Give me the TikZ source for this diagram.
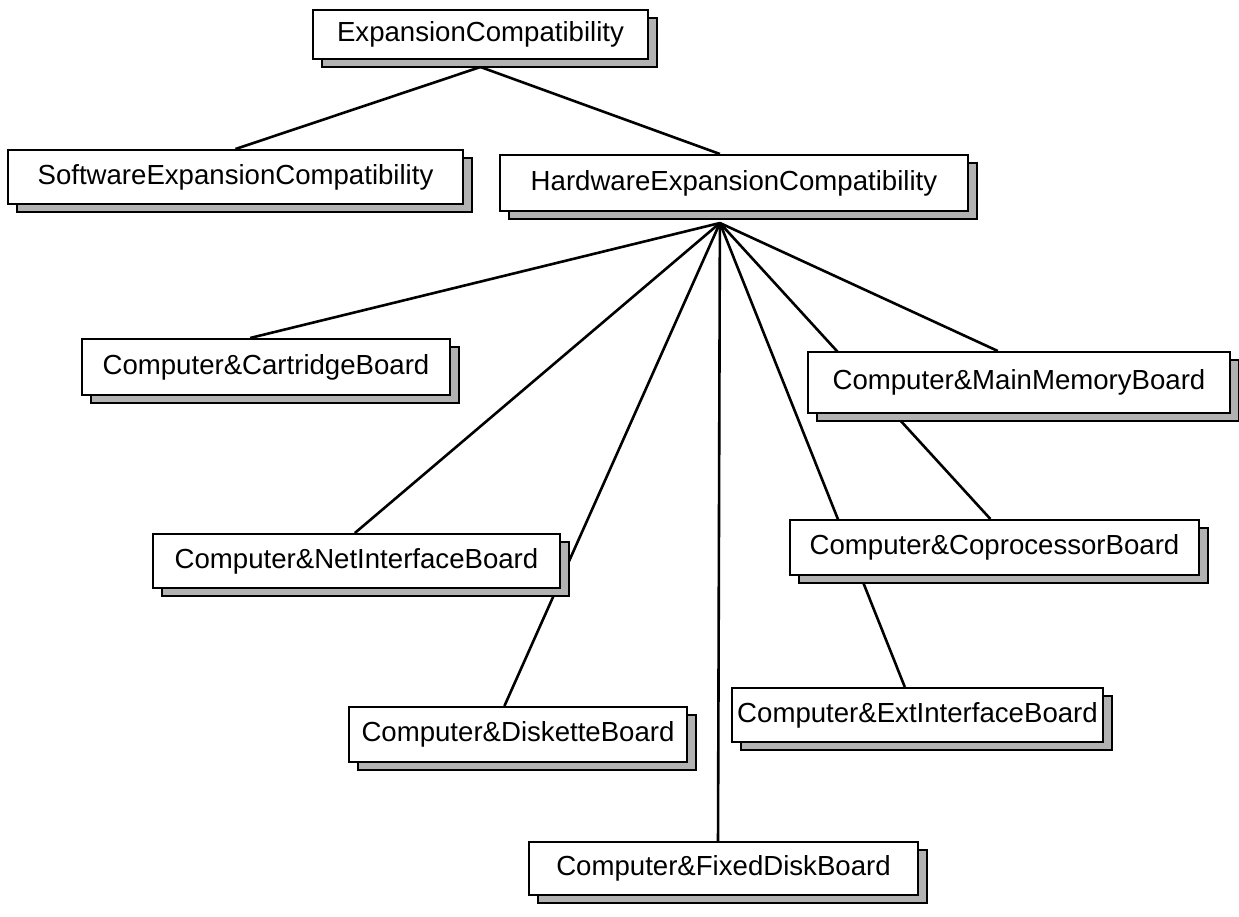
\documentclass[tikz,border=0pt]{standalone}
\usepackage{fontspec}
\setmainfont{Liberation Sans}
\usetikzlibrary{calc,shadows,backgrounds}
\begin{document}
\begin{tikzpicture}[x=0.5pt,y=-0.5pt,
  box/.style={draw=black, line width=1pt, fill=white, inner sep=0pt,
    font=\fontsize{13.8}{16}\selectfont,
    general shadow={fill=gray!60, draw=black, line width=0.6pt,
      shadow xshift=4.5pt, shadow yshift=-4pt}},
  link/.style={line width=1.3pt, draw=black}]
\useasboundingbox (0,0) rectangle (1239,917);

% class boxes
\node[box, minimum width=167.5pt, minimum height=24.5pt] (exp)  at (480.5,34.5) {ExpansionCompatibility};
\node[box, minimum width=227.5pt, minimum height=27pt]   (sw)   at (235.5,177)  {SoftwareExpansionCompatibility};
\node[box, minimum width=234pt,   minimum height=28pt]   (hw)   at (734,183)    {HardwareExpansionCompatibility};
\node[box, minimum width=184pt,   minimum height=28pt]   (cart) at (266,367)    {Computer\&CartridgeBoard};
\node[box, minimum width=211pt,   minimum height=30.5pt] (mm)   at (1019,382.5) {Computer\&MainMemoryBoard};
\node[box, minimum width=203.5pt, minimum height=27pt]   (net)  at (356.5,561)  {Computer\&NetInterfaceBoard};
\node[box, minimum width=204.5pt, minimum height=27.5pt] (cop)  at (994.5,547.5) {Computer\&CoprocessorBoard};
\node[box, minimum width=169pt,   minimum height=27.5pt] (disk) at (518,734.5)  {Computer\&DisketteBoard};
\node[box, minimum width=185.5pt, minimum height=27pt]   (ext)  at (917.5,715)  {Computer\&ExtInterfaceBoard};
\node[box, minimum width=194.5pt, minimum height=26.5pt] (fix)  at (723.5,868.5) {Computer\&FixedDiskBoard};

% connectors, drawn behind the boxes
\begin{scope}[on background layer]
  \coordinate (hubA) at ($(exp.south)+(0,7)$);
  \coordinate (hubB) at ($(hw.south west)!0.47!(hw.south east)+(0,11)$);
  \draw[link] (hubA) -- (sw.north);
  \draw[link] (hubA) -- ($(hw.north west)!0.47!(hw.north east)$);
  \draw[link] (hubB) -- ($(cart.north west)!0.457!(cart.north east)$);
  \draw[link] (hubB) -- ($(net.north west)!0.496!(net.north east)$);
  \draw[link] (hubB) -- ($(disk.north west)!0.46!(disk.north east)$);
  \draw[link] (hubB) -- ($(fix.north west)!0.486!(fix.north east)$);
  \draw[link] (hubB) -- ($(ext.north west)!0.466!(ext.north east)$);
  \draw[link] (hubB) -- ($(cop.north west)!0.49!(cop.north east)$);
  \draw[link] (hubB) -- ($(mm.north west)!0.45!(mm.north east)$);
\end{scope}
\end{tikzpicture}
\end{document}
